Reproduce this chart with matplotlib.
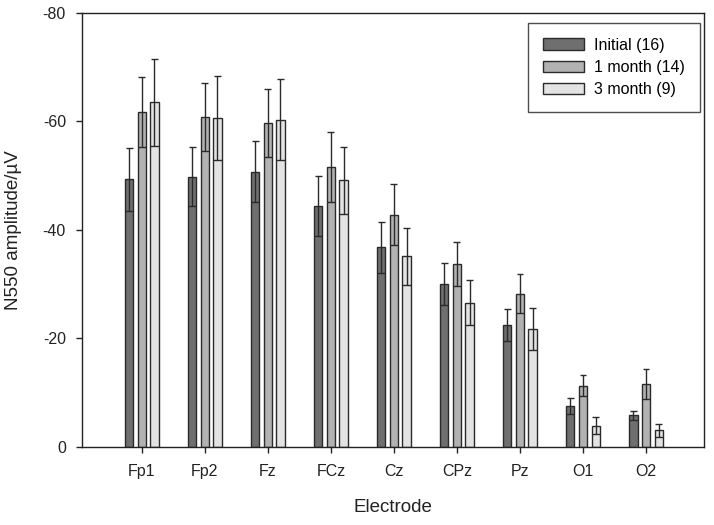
import matplotlib
matplotlib.use("Agg")
import matplotlib.pyplot as plt
import numpy as np

plt.rcParams['font.family'] = ['Liberation Sans', 'DejaVu Sans']

electrodes = ["Fp1", "Fp2", "Fz", "FCz", "Cz", "CPz", "Pz", "O1", "O2"]
series_names = ["Initial (16)", "1 month (14)", "3 month (9)"]

initial_mean = [-49.3, -49.8, -50.7, -44.4, -36.8, -30.0, -22.5, -7.5, -5.8]
initial_se = [5.8, 5.4, 5.6, 5.5, 4.7, 3.9, 2.9, 1.5, 0.9]
month1_mean = [-61.7, -60.8, -59.7, -51.6, -42.8, -33.7, -28.2, -11.3, -11.6]
month1_se = [6.5, 6.2, 6.3, 6.4, 5.6, 4.0, 3.6, 2.0, 2.8]
month3_mean = [-63.5, -60.6, -60.3, -49.1, -35.1, -26.6, -21.7, -3.9, -3.1]
month3_se = [8.0, 7.7, 7.5, 6.1, 5.3, 4.2, 3.9, 1.6, 1.2]

means = [initial_mean, month1_mean, month3_mean]
ses = [initial_se, month1_se, month3_se]
colors = ["#6f6f6f", "#b2b2b2", "#e3e3e3"]
edge = "#2a2a2a"

fig = plt.figure(figsize=(7.14, 5.25), dpi=100)
ax = fig.add_axes([0.1148, 0.1486, 0.986 - 0.1148, 0.976 - 0.1486])

x = np.arange(len(electrodes))
offset = 0.2
width = 0.13
capw = 0.055

for i, (m, s, c, name) in enumerate(zip(means, ses, colors, series_names)):
    m = np.array(m)
    s = np.array(s)
    xi = x + (i - 1) * offset
    ax.bar(xi, m, width=width, color=c, edgecolor=edge, linewidth=1.0, label=name, zorder=2)
    ax.vlines(xi, m + s, m - s, color=edge, linewidth=1.0, zorder=3)
    ax.hlines(m - s, xi - capw, xi + capw, color=edge, linewidth=1.0, zorder=3)
    ax.hlines(m + s, xi - width / 2, xi + width / 2, color=edge, linewidth=1.0, zorder=3)

ax.set_ylim(0, -80)
ax.set_yticks([0, -20, -40, -60, -80])
ax.set_yticklabels(["0", "-20", "-40", "-60", "-80"])
ax.set_xlim(-0.95, 8.92)
ax.set_xticks(x)
ax.set_xticklabels(electrodes)

for sp in ax.spines.values():
    sp.set_linewidth(1.0)
    sp.set_color("#222222")

ax.tick_params(axis='both', direction='out', length=4.5, width=1.0, labelsize=11.5, colors="#222222", pad=7)
ax.tick_params(axis='x', pad=8)

ax.set_xlabel("Electrode", fontsize=13.5, labelpad=14, color="#222222")
ax.set_ylabel("N550 amplitude/\u00b5V", fontsize=13.5, labelpad=15, color="#222222")

leg = ax.legend(loc='upper right', bbox_to_anchor=(0.9936, 0.977), frameon=True, fancybox=False,
                edgecolor="#222222", fontsize=11.5, handlelength=2.6, handleheight=0.75,
                borderpad=0.95, labelspacing=0.45, handletextpad=0.6, borderaxespad=0)
leg.get_frame().set_linewidth(1.0)

fig.savefig("out.png", dpi=100)
